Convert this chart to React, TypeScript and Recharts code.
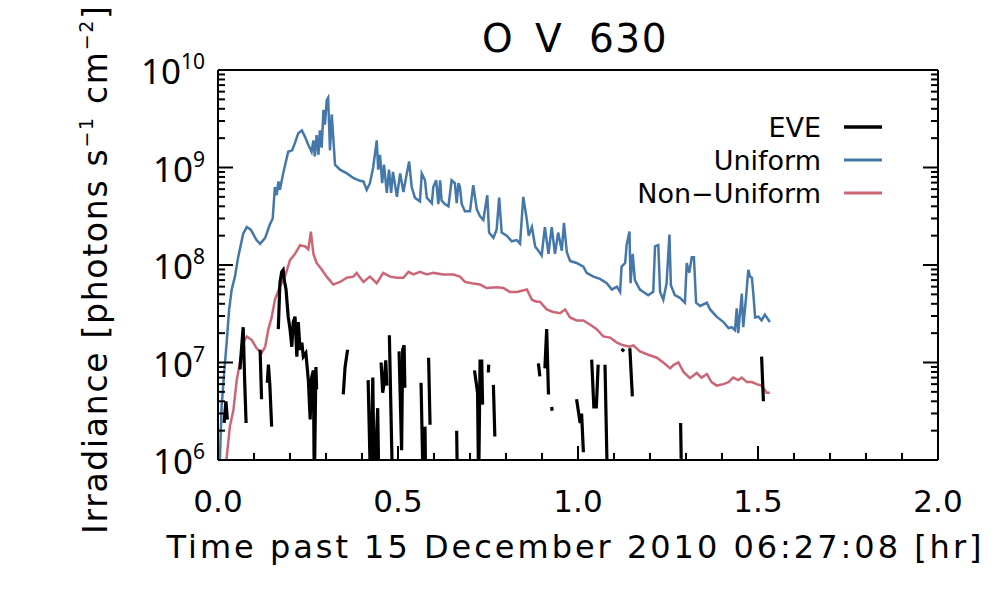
import { LineChart, Line, XAxis, YAxis, Label } from 'recharts'

const FONT = '"DejaVu Sans", sans-serif'
const NUM_FONT = '"Noto Sans", sans-serif'

// hours past 15 Dec 2010 06:27:08, irradiance in photons s^-1 cm^-2
const uniform: [number, number][] = [
  [0.003, 5e5], [0.006, 1.2e6], [0.01, 3.5e6], [0.015, 6.2e6], [0.024, 1.6e7],
  [0.031, 3.5e7], [0.038, 5.6e7], [0.047, 7.6e7], [0.056, 1.2e8], [0.07, 2.1e8],
  [0.08, 2.45e8], [0.091, 2.3e8], [0.107, 1.8e8], [0.117, 1.65e8], [0.131, 1.9e8],
  [0.144, 2.6e8], [0.152, 3.0e8], [0.158, 6.3e8], [0.163, 5.2e8], [0.168, 7.2e8],
  [0.172, 5.9e8], [0.181, 8.7e8], [0.195, 1.45e9], [0.206, 1.5e9], [0.214, 1.8e9],
  [0.223, 2.25e9], [0.233, 2.4e9], [0.242, 2.05e9], [0.251, 1.7e9], [0.26, 1.45e9],
  [0.265, 1.9e9], [0.269, 1.3e9], [0.274, 2.15e9], [0.279, 1.35e9], [0.283, 2.4e9],
  [0.288, 1.6e9], [0.293, 3.9e9], [0.297, 2.75e9], [0.302, 4.9e9], [0.306, 5.2e9],
  [0.311, 1.5e9], [0.316, 3.5e9], [0.325, 1.07e9], [0.339, 9.5e8], [0.358, 8.7e8],
  [0.376, 7.8e8], [0.394, 7.3e8], [0.404, 7.2e8], [0.413, 5.9e8], [0.422, 6.9e8],
  [0.431, 1.0e9], [0.441, 1.9e9], [0.445, 9.5e8], [0.45, 1.35e9], [0.456, 6.9e8],
  [0.461, 1.07e9], [0.469, 5.5e8], [0.475, 9.5e8], [0.481, 5.5e8], [0.486, 9.0e8],
  [0.492, 6.6e8], [0.497, 5.0e8], [0.506, 8.7e8], [0.515, 5.6e8], [0.524, 8.5e8],
  [0.531, 1.15e9], [0.538, 6.3e8], [0.547, 4.9e8], [0.561, 4.5e8], [0.566, 8.7e8],
  [0.575, 7.4e8], [0.58, 4.9e8], [0.594, 4.3e8], [0.598, 6.3e8], [0.606, 7.4e8],
  [0.612, 4.2e8], [0.617, 7.4e8], [0.621, 4.6e8], [0.631, 4.2e8], [0.64, 4.0e8],
  [0.649, 7.4e8], [0.658, 6.9e8], [0.663, 4.3e8], [0.668, 6.9e8], [0.672, 6.3e8],
  [0.677, 4.2e8], [0.686, 3.55e8], [0.7, 3.55e8], [0.709, 6.6e8], [0.719, 3.7e8],
  [0.728, 3.15e8], [0.737, 2.9e8], [0.748, 5.2e8], [0.753, 2.15e8], [0.765, 1.9e8],
  [0.774, 2.3e8], [0.781, 4.9e8], [0.788, 2.15e8], [0.802, 2.0e8], [0.816, 1.75e8],
  [0.83, 1.8e8], [0.839, 1.65e8], [0.848, 5.0e8], [0.858, 2.9e8], [0.863, 2.0e8],
  [0.872, 2.45e8], [0.881, 1.55e8], [0.89, 1.4e8], [0.899, 1.25e8], [0.908, 2.45e8],
  [0.918, 1.3e8], [0.927, 2.45e8], [0.936, 1.3e8], [0.945, 2.15e8], [0.955, 1.4e8],
  [0.961, 2.7e8], [0.969, 1.35e8], [0.978, 1.1e8], [0.996, 1.05e8], [1.015, 9.6e7],
  [1.024, 8.3e7], [1.043, 7.6e7], [1.061, 7.2e7], [1.08, 6.5e7], [1.094, 5.6e7],
  [1.108, 6.0e7], [1.117, 5.3e7], [1.121, 9.6e7], [1.131, 1.05e8], [1.135, 1.6e8],
  [1.143, 2.2e8], [1.146, 6.5e7], [1.152, 1.3e8], [1.158, 7.0e7], [1.172, 5.6e7],
  [1.195, 4.9e7], [1.209, 5.3e7], [1.214, 1.55e8], [1.223, 1.6e8], [1.228, 5.3e7],
  [1.237, 4.4e7], [1.246, 6.5e7], [1.254, 2.05e8], [1.258, 6.2e7], [1.269, 4.9e7],
  [1.283, 4.6e7], [1.297, 4.1e7], [1.302, 1.05e8], [1.309, 8.3e7], [1.316, 1.2e8],
  [1.322, 1.2e8], [1.328, 4.1e7], [1.339, 3.8e7], [1.358, 4.1e7], [1.367, 3.5e7],
  [1.385, 2.95e7], [1.404, 2.6e7], [1.418, 2.25e7], [1.427, 2.3e7], [1.436, 2.15e7],
  [1.441, 3.6e7], [1.445, 2.0e7], [1.455, 5.1e7], [1.459, 2.3e7], [1.467, 4.7e7],
  [1.473, 8.9e7], [1.478, 7.6e7], [1.483, 7.4e7], [1.487, 5.1e7], [1.492, 2.9e7],
  [1.501, 2.95e7], [1.51, 2.7e7], [1.519, 3.1e7], [1.533, 2.6e7],
]

const nonUniform: [number, number][] = [
  [0.022, 9e5], [0.033, 2.2e6], [0.043, 3.3e6], [0.052, 6.6e6], [0.061, 1.0e7],
  [0.07, 1.6e7], [0.08, 1.85e7], [0.094, 1.7e7], [0.107, 1.4e7], [0.121, 1.25e7],
  [0.131, 1.45e7], [0.14, 2.2e7], [0.149, 2.9e7], [0.158, 4.4e7], [0.172, 6.0e7],
  [0.186, 7.6e7], [0.2, 1.12e8], [0.214, 1.3e8], [0.228, 1.6e8], [0.242, 1.55e8],
  [0.251, 1.45e8], [0.258, 2.2e8], [0.265, 1.3e8], [0.274, 1.05e8], [0.288, 9.0e7],
  [0.302, 7.6e7], [0.32, 6.3e7], [0.339, 6.7e7], [0.358, 7.4e7], [0.376, 7.6e7],
  [0.385, 8.3e7], [0.404, 6.7e7], [0.422, 7.6e7], [0.441, 6.5e7], [0.459, 8.3e7],
  [0.478, 7.6e7], [0.496, 7.4e7], [0.515, 7.4e7], [0.529, 8.5e7], [0.543, 8.0e7],
  [0.561, 8.5e7], [0.58, 8.0e7], [0.598, 8.3e7], [0.626, 8.0e7], [0.654, 8.0e7],
  [0.672, 7.6e7], [0.686, 6.7e7], [0.705, 6.5e7], [0.728, 6.3e7], [0.746, 5.8e7],
  [0.774, 5.9e7], [0.793, 5.8e7], [0.811, 5.3e7], [0.83, 5.3e7], [0.858, 5.6e7],
  [0.872, 4.4e7], [0.885, 4.2e7], [0.894, 4.2e7], [0.913, 3.5e7], [0.931, 3.3e7],
  [0.95, 3.2e7], [0.964, 3.5e7], [0.978, 2.9e7], [0.996, 2.7e7], [1.015, 2.7e7],
  [1.033, 2.45e7], [1.052, 2.2e7], [1.07, 1.85e7], [1.089, 1.8e7], [1.108, 1.6e7],
  [1.126, 1.5e7], [1.144, 1.45e7], [1.154, 1.5e7], [1.172, 1.3e7], [1.195, 1.2e7],
  [1.219, 1.12e7], [1.237, 1.0e7], [1.256, 8.7e6], [1.265, 9.4e6], [1.279, 1.0e7],
  [1.293, 8.0e6], [1.311, 6.9e6], [1.33, 7.8e6], [1.343, 7.0e6], [1.358, 7.6e6],
  [1.371, 6.3e6], [1.385, 5.8e6], [1.404, 6.0e6], [1.418, 6.3e6], [1.431, 7.0e6],
  [1.445, 6.6e6], [1.455, 7.0e6], [1.469, 6.3e6], [1.483, 6.3e6], [1.496, 6.0e6],
  [1.51, 5.8e6], [1.524, 4.9e6], [1.533, 4.9e6],
]

// EVE measurements come in broken pieces
const eveSegments: [number, number][][] = [
  [[0.017, 2.4e6], [0.022, 4.0e6], [0.026, 2.6e6]],
  [[0.061, 8.5e6], [0.066, 1.5e7], [0.07, 2.3e7], [0.074, 6.6e6], [0.078, 2.4e6]],
  [[0.117, 1.35e7], [0.121, 4.2e6]],
  [[0.137, 6.2e6], [0.14, 9.5e6], [0.144, 5.9e6], [0.149, 2.2e6]],
  [[0.1675, 2.2e7], [0.172, 6.6e7], [0.177, 8.5e7], [0.181, 8.9e7], [0.184, 7.0e7],
   [0.189, 5.6e7], [0.195, 2.95e7], [0.2, 2.2e7], [0.205, 1.45e7], [0.209, 2.6e7],
   [0.214, 2.95e7], [0.219, 1.15e7], [0.223, 2.6e7], [0.228, 1.35e7], [0.233, 1.6e7],
   [0.237, 1.15e7], [0.244, 1.25e7], [0.251, 6.6e6], [0.256, 2.6e6], [0.26, 7.0e6],
   [0.265, 8.3e6], [0.2675, 5e5], [0.272, 9.0e6], [0.274, 5.3e6]],
  [[0.348, 4.7e6], [0.353, 9.0e6], [0.36, 1.35e7]],
  [[0.417, 6.6e6], [0.424, 5e5], [0.43, 7.0e6], [0.434, 5e5], [0.4436, 3.4e6], [0.447, 5e5]],
  [[0.453, 1.0e7], [0.4575, 4.9e6], [0.461, 6.0e6], [0.466, 1.05e7], [0.469, 5.8e6]],
  [[0.476, 1.9e7], [0.485, 5e5]],
  [[0.503, 1.3e7], [0.51, 1.26e6], [0.513, 1.35e7], [0.517, 1.5e7], [0.519, 5.5e6]],
  [[0.564, 6.2e6], [0.57, 5e5]],
  [[0.575, 2.2e6], [0.577, 5e5]],
  [[0.585, 1.12e7], [0.589, 2.3e6]],
  [[0.663, 2.0e6], [0.665, 5e5]],
  [[0.7125, 8.3e6], [0.721, 4.9e6], [0.724, 5e5], [0.728, 1.07e7], [0.731, 4.7e6],
   [0.7325, 1.07e7], [0.735, 3.7e6]],
  [[0.751, 7.9e6], [0.752, 9.5e6]],
  [[0.765, 5.9e6], [0.769, 1.74e6]],
  [[0.89, 9.8e6], [0.894, 7.2e6]],
  [[0.908, 8.7e6], [0.913, 2.2e7], [0.918, 4.7e6]],
  [[0.927, 3.5e6], [0.928, 3.2e6]],
  [[0.996, 4.2e6], [1.006, 2.4e6], [1.01, 3.0e6], [1.015, 1.2e6]],
  [[1.038, 1.07e7], [1.044, 3.5e6], [1.051, 3.5e6], [1.056, 9.5e6]],
  [[1.075, 9.5e6], [1.082, 5e5]],
  [[1.121, 1.38e7], [1.128, 1.3e7]],
  [[1.144, 1.4e7], [1.151, 4.5e6]],
  [[1.285, 2.4e6], [1.288, 5e5]],
  [[1.51, 1.15e7], [1.515, 4.0e6]],
]

const xTicks = [0, 0.1, 0.2, 0.3, 0.4, 0.5, 0.6, 0.7, 0.8, 0.9, 1.0, 1.1, 1.2, 1.3, 1.4, 1.5, 1.6, 1.7, 1.8, 1.9, 2.0]
const xMajor = [0, 0.5, 1.0, 1.5, 2.0]
const yDecades = [6, 7, 8, 9, 10]
const yMantissas = [1, 2, 3, 4, 5, 6, 7, 8, 9]
const yTicks = yDecades.flatMap((d) => (d === 10 ? [1e10] : yMantissas.map((m) => m * 10 ** d)))

const legendItems = [
  { name: 'EVE', color: '#000000', width: 3.5 },
  { name: 'Uniform', color: '#4477AA', width: 3 },
  { name: 'Non\u2212Uniform', color: '#CC6677', width: 3 },
]

const toRows = (pts: [number, number][]) => pts.map(([t, v]) => ({ t, v }))
const eveRows = eveSegments.flatMap((seg, i) => {
  const rows: { t: number; v: number | null }[] = toRows(seg)
  return i === 0 ? rows : [{ t: seg[0][0], v: null }, ...rows]
})

const isMajorX = (v: number) => xMajor.some((m) => Math.abs(m - v) < 1e-6)
const decadeOf = (v: number) => yDecades.find((d) => v === 10 ** d)

const BottomTick = ({ x, y, payload }: any) => {
  const major = isMajorX(payload.value)
  return (
    <g>
      <line x1={x} x2={x} y1={y} y2={y - (major ? 14 : 7)} stroke="#000" strokeWidth={2} />
      {major && (
        <text x={x} y={y + 52} textAnchor="middle" fontFamily={FONT} fontSize={31} fill="#000">
          {payload.value.toFixed(1)}
        </text>
      )}
    </g>
  )
}

const TopTick = ({ x, y, payload }: any) => (
  <line x1={x} x2={x} y1={y} y2={y + (isMajorX(payload.value) ? 14 : 7)} stroke="#000" strokeWidth={2} />
)

const LeftTick = ({ x, y, payload }: any) => {
  const d = decadeOf(payload.value)
  return (
    <g>
      <line x1={x} x2={x + (d !== undefined ? 15 : 7)} y1={y} y2={y} stroke="#000" strokeWidth={2} />
      {d !== undefined && (
        <text x={205} y={y + 14} textAnchor="end" fontFamily={NUM_FONT} fontSize={35} fill="#000">
          10<tspan dy={-15} fontSize={21}>{d}</tspan>
        </text>
      )}
    </g>
  )
}

const RightTick = ({ x, y, payload }: any) => (
  <line x1={x} x2={x - (decadeOf(payload.value) !== undefined ? 15 : 7)} y1={y} y2={y} stroke="#000" strokeWidth={2} />
)

const Title = () => (
  <text y={52} fontFamily={FONT} fontSize={39} fill="#000">
    <tspan x={482}>O</tspan>
    <tspan x={535}>V</tspan>
    <tspan x={589} letterSpacing={1.5}>630</tspan>
  </text>
)

const XTitle = () => (
  <text x={574} y={558} textAnchor="middle" fontFamily={FONT} fontSize={32} fill="#000" textLength={815}>
    Time past 15 December 2010 06:27:08 [hr]
  </text>
)

const YTitle = () => (
  <text transform="translate(107, 270) rotate(-90)" textAnchor="middle" fontFamily={FONT} fontSize={33} fill="#000" textLength={528}>
    Irradiance [photons s<tspan dy={-14} fontSize={19}>{'\u22121'}</tspan>
    <tspan dy={14}> cm</tspan>
    <tspan dy={-14} fontSize={19}>{'\u22122'}</tspan>
    <tspan dy={14}>]</tspan>
  </text>
)

const LegendBox = () => (
  <g fontFamily={FONT} fontSize={27}>
    {legendItems.map((it, i) => (
      <g key={it.name}>
        <text x={821} y={137 + i * 33} textAnchor="end" fill="#000">
          {it.name}
        </text>
        <line x1={844} x2={882} y1={127 + i * 33} y2={127 + i * 33} stroke={it.color} strokeWidth={it.width} />
      </g>
    ))}
  </g>
)

const axisLine = { stroke: '#000', strokeWidth: 2 }

export default function App() {
  return (
    <div style={{ position: 'absolute', left: 0, top: 0, width: 1000, height: 600, background: '#fff' }}>
      <LineChart width={1000} height={600} margin={{ top: 0, right: 0, bottom: 0, left: 0 }}>
        <XAxis
          xAxisId="b"
          dataKey="t"
          type="number"
          orientation="bottom"
          domain={[0, 2]}
          allowDataOverflow
          ticks={xTicks}
          interval={0}
          height={140}
          axisLine={axisLine}
          tickLine={false}
          tickSize={0}
          tickMargin={0}
          tick={BottomTick}
        >
          <Label content={XTitle} />
        </XAxis>
        <XAxis
          xAxisId="top"
          type="number"
          orientation="top"
          domain={[0, 2]}
          allowDataOverflow
          ticks={xTicks}
          interval={0}
          height={70}
          axisLine={axisLine}
          tickLine={false}
          tickSize={0}
          tickMargin={0}
          tick={TopTick}
        >
          <Label content={Title} />
        </XAxis>
        <YAxis
          yAxisId="l"
          type="number"
          scale="log"
          domain={[1e6, 1e10]}
          allowDataOverflow
          ticks={yTicks}
          interval={0}
          width={218}
          axisLine={axisLine}
          tickLine={false}
          tickSize={0}
          tickMargin={0}
          tick={LeftTick}
        >
          <Label content={YTitle} />
        </YAxis>
        <YAxis
          yAxisId="r"
          type="number"
          orientation="right"
          scale="log"
          domain={[1e6, 1e10]}
          allowDataOverflow
          ticks={yTicks}
          interval={0}
          width={62}
          axisLine={axisLine}
          tickLine={false}
          tickSize={0}
          tickMargin={0}
          tick={RightTick}
        >
          <Label content={LegendBox} />
        </YAxis>
        <Line
          xAxisId="b"
          yAxisId="l"
          data={toRows(uniform)}
          dataKey="v"
          type="linear"
          stroke="#4477AA"
          strokeWidth={2.5}
          dot={false}
          isAnimationActive={false}
        />
        <Line
          xAxisId="b"
          yAxisId="l"
          data={toRows(nonUniform)}
          dataKey="v"
          type="linear"
          stroke="#CC6677"
          strokeWidth={2.5}
          dot={false}
          isAnimationActive={false}
        />
        <Line
          xAxisId="b"
          yAxisId="l"
          data={eveRows}
          dataKey="v"
          type="linear"
          stroke="#000000"
          strokeWidth={3.2}
          dot={false}
          isAnimationActive={false}
        />
      </LineChart>
    </div>
  )
}
